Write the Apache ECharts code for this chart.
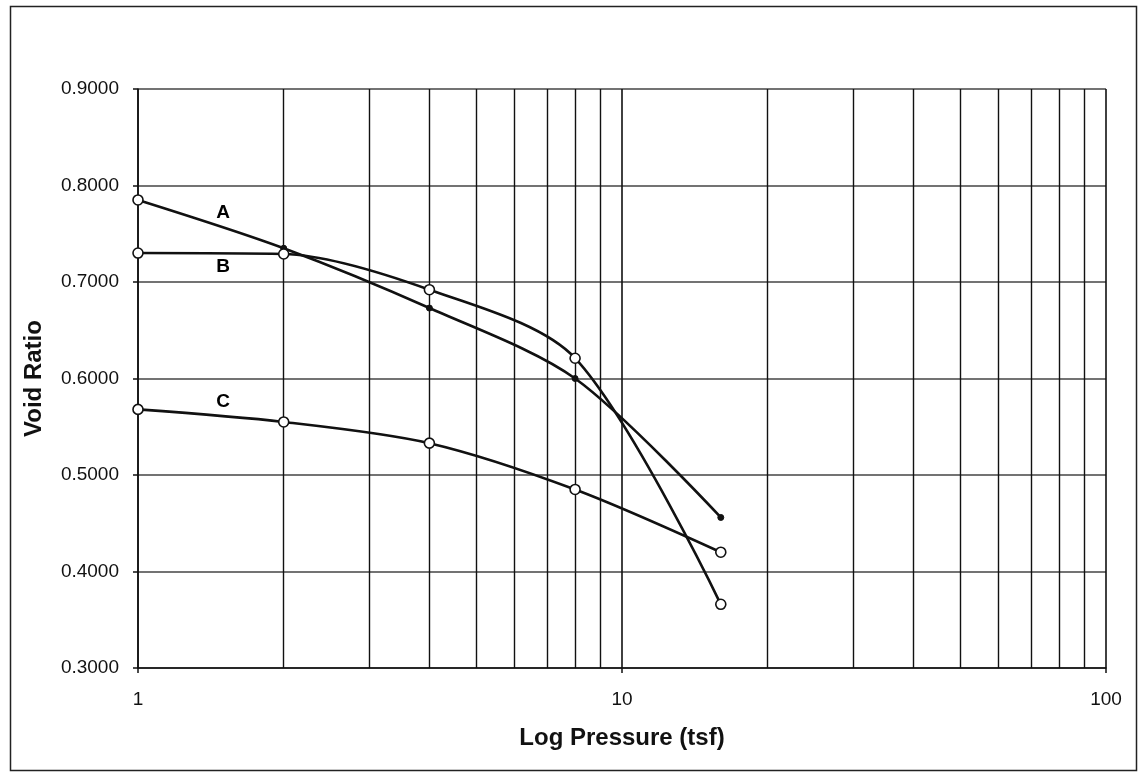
<!DOCTYPE html>
<html>
<head>
<meta charset="utf-8">
<script src="https://cdn.jsdelivr.net/npm/echarts@6/dist/echarts.min.js"></script>
<style>
html,body{margin:0;padding:0;background:#fff;}
#chart{width:1138px;height:772px;}
</style>
</head>
<body>
<div id="chart"></div>
<script>
const pressures = [1, 2, 4, 8, 16];
const seriesA = [0.785, 0.735, 0.673, 0.600, 0.456];
const seriesB = [0.730, 0.729, 0.692, 0.621, 0.366];
const seriesC = [0.568, 0.555, 0.533, 0.485, 0.420];
const minorGrid = [2, 3, 4, 5, 6, 7, 8, 9, 20, 30, 40, 50, 60, 70, 80, 90];
const curveLabels = [[1.5, 0.7715, 'A'], [1.5, 0.7156, 'B'], [1.5, 0.5756, 'C']];
const yTicks = {min: 0.3, max: 0.9, interval: 0.1};

const FONT = '"Liberation Sans", Arial, sans-serif';
const chart = echarts.init(document.getElementById('chart'));

function pts(vals) { return pressures.map((p, i) => [p, vals[i]]); }

const openCircle = {color: '#fff', borderColor: '#111', borderWidth: 1.6};

chart.setOption({
  animation: false,
  backgroundColor: '#fff',
  grid: {left: 138, right: 32, top: 89, bottom: 104},
  graphic: [{
    type: 'rect', left: 8, top: 4,
    shape: {width: 1126, height: 764},
    style: {fill: 'none', stroke: '#222', lineWidth: 1.5},
    silent: true, z: -1
  }],
  xAxis: {
    type: 'log', logBase: 10, min: 1, max: 100,
    name: 'Log Pressure (tsf)', nameLocation: 'middle', nameGap: 58,
    nameTextStyle: {fontFamily: FONT, fontSize: 24, fontWeight: 'bold', color: '#111'},
    axisLine: {show: true, lineStyle: {color: '#111', width: 1.5}},
    axisTick: {show: true, length: 5, lineStyle: {color: '#111', width: 1.5}},
    axisLabel: {fontFamily: FONT, fontSize: 19, color: '#111', margin: 22},
    splitLine: {show: true, lineStyle: {color: '#111', width: 1.6}}
  },
  yAxis: {
    type: 'value', min: yTicks.min, max: yTicks.max, interval: yTicks.interval,
    name: 'Void Ratio', nameLocation: 'middle', nameGap: 92,
    nameTextStyle: {fontFamily: FONT, fontSize: 24, fontWeight: 'bold', color: '#111'},
    axisLine: {show: true, lineStyle: {color: '#111', width: 1.5}},
    axisTick: {show: true, length: 5, lineStyle: {color: '#111', width: 1.5}},
    axisLabel: {fontFamily: FONT, fontSize: 19, color: '#111', margin: 19,
      formatter: v => v.toFixed(4)},
    splitLine: {show: true, lineStyle: {color: '#444', width: 1.6}}
  },
  series: [
    {
      type: 'line', data: [], silent: true,
      markLine: {
        silent: true, symbol: 'none', label: {show: false},
        lineStyle: {color: '#111', width: 1.4, type: 'solid'},
        data: minorGrid.map(v => ({xAxis: v}))
      }
    },
    {
      name: 'A', type: 'line', smooth: 0.3,
      data: pts(seriesA).map((d, i) => i === 0
        ? {value: d, symbolSize: 10, itemStyle: openCircle}
        : {value: d}),
      symbol: 'circle', symbolSize: 6,
      itemStyle: {color: '#111', borderColor: '#111'},
      lineStyle: {color: '#111', width: 2.6}, z: 5
    },
    {
      name: 'B', type: 'line', smooth: 0.3,
      data: pts(seriesB),
      symbol: 'circle', symbolSize: 10,
      itemStyle: openCircle,
      lineStyle: {color: '#111', width: 2.6}, z: 5
    },
    {
      name: 'C', type: 'line', smooth: 0.3,
      data: pts(seriesC),
      symbol: 'circle', symbolSize: 10,
      itemStyle: openCircle,
      lineStyle: {color: '#111', width: 2.6}, z: 5
    },
    {
      type: 'scatter', data: curveLabels, symbolSize: 1, silent: true,
      itemStyle: {opacity: 1, color: 'rgba(0,0,0,0)'},
      label: {show: true, position: 'inside', formatter: p => p.value[2],
        fontFamily: FONT, fontSize: 19, fontWeight: 'bold', color: '#000', opacity: 1}
    }
  ]
});
</script>
</body>
</html>
